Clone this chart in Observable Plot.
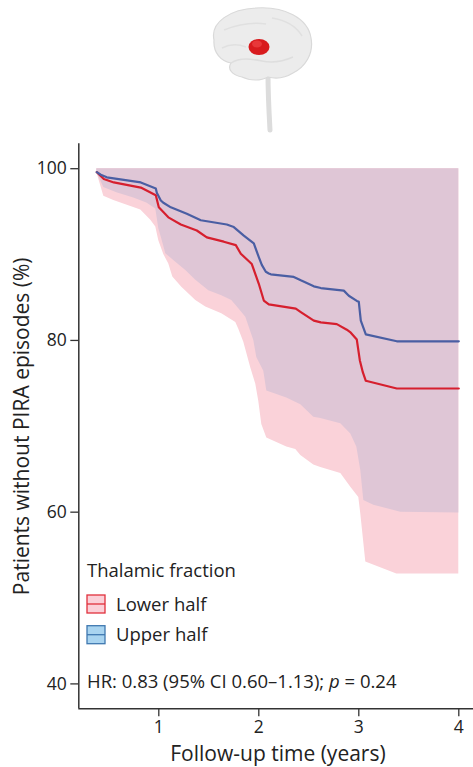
<!DOCTYPE html>
<html><head><meta charset="utf-8">
<script src="https://cdn.jsdelivr.net/npm/d3@7"></script>
<script src="https://cdn.jsdelivr.net/npm/@observablehq/plot@0.6"></script>
<style>
body{margin:0;background:#fff;font-family:"Open Sans",sans-serif;}
#wrap{position:relative;width:473px;}
#brain{display:block;}
</style></head><body>
<div id="wrap">
<svg id="brain" width="473" height="135" viewBox="0 0 473 135">
  <path d="M268 74 C268 95 269 112 270 130" stroke="#dcdcdc" stroke-width="5" fill="none" stroke-linecap="round"/>
  <path d="M214 40 C210 22 231 9 256 8 C284 6 308 18 311 38 C314 54 305 67 293 73 C285 78 276 79 268 77 C261 81 250 81 242 77 C232 75 227 69 231 63 C221 61 213 53 214 40 Z" fill="#ececec" stroke="#d9d9d9" stroke-width="1.2"/>
  <path d="M231 63 C240 57 252 59 262 61 C272 63 284 61 293 57" stroke="#dedede" stroke-width="1.5" fill="none"/>
  <path d="M224 30 C239 24 252 22 266 24 M272 18 C285 20 296 26 302 36 M222 48 C230 44 238 44 246 47" stroke="#e0e0e0" stroke-width="1.5" fill="none"/>
  <ellipse cx="259" cy="47" rx="10.5" ry="8" fill="#d81b1e"/>
  <ellipse cx="257" cy="44" rx="5" ry="3.5" fill="#e8383a"/>
</svg>
<div id="chart"></div>
</div>
<script>
// ---- data ----
const groups = ["Lower half", "Upper half"];
const legendTitle = "Thalamic fraction";
const hrText = ["HR: 0.83 (95% CI 0.60–1.13); ", "p", " = 0.24"];
const xLabel = "Follow-up time (years)";
const yLabel = "Patients without PIRA episodes (%)";
const xTicks = [1, 2, 3, 4];
const yTicks = [40, 60, 80, 100];
const ciUpper = 100;

// Lower half: survival curve
const lowerTime     = [0.38,0.45,0.55,0.82,0.97,1.0,1.05,1.1,1.22,1.38,1.48,1.65,1.77,1.82,1.93,2.0,2.05,2.1,2.37,2.42,2.55,2.62,2.78,2.88,2.92,2.98,3.01,3.04,3.07,3.38,4.0];
const lowerSurvival = [99.6,98.8,98.4,97.8,96.9,95.5,94.9,94.3,93.5,92.8,92.0,91.5,91.1,90.1,88.9,86.6,84.65,84.2,83.7,83.3,82.3,82.1,81.9,81.25,80.9,80.1,77.7,76.3,75.3,74.4,74.4];
// Lower half: lower 95% CI bound
const lowerBandTime = [0.38,0.45,0.55,0.82,0.92,0.97,1.0,1.05,1.1,1.14,1.23,1.37,1.47,1.63,1.77,1.8,1.85,1.92,1.97,2.0,2.03,2.08,2.28,2.37,2.42,2.55,2.62,2.82,2.92,3.0,3.02,3.07,3.38,4.0];
const lowerCILow    = [99.6,96.8,96.3,95.2,94.0,93.2,91.6,90.0,88.9,87.4,86.2,84.65,83.9,83.1,82.1,81.3,79.8,76.8,74.9,72.9,70.2,68.65,67.6,67.3,66.6,65.5,65.2,64.5,62.9,61.7,59.8,54.2,52.8,52.8];

// Upper half: survival curve
const upperTime     = [0.38,0.42,0.48,0.82,0.97,0.98,1.02,1.05,1.12,1.28,1.42,1.68,1.75,1.8,1.85,1.95,2.0,2.03,2.07,2.1,2.12,2.35,2.42,2.55,2.62,2.85,2.9,2.98,3.0,3.02,3.07,3.38,4.0];
const upperSurvival = [99.6,99.3,99.0,98.4,97.7,97.2,96.3,96.0,95.5,94.75,94.0,93.5,93.2,92.7,92.2,91.3,89.7,88.8,88.0,87.8,87.7,87.4,87.0,86.3,86.1,85.8,85.2,84.6,84.5,82.3,80.7,79.9,79.9];
// Upper half: lower 95% CI bound
const upperBandTime = [0.38,0.45,0.58,0.75,0.88,0.97,1.0,1.03,1.07,1.17,1.27,1.37,1.5,1.63,1.73,1.8,1.87,1.95,1.98,2.05,2.08,2.28,2.42,2.55,2.62,2.82,2.92,2.98,3.02,3.05,3.15,3.42,4.0];
const upperCILow    = [99.6,97.8,97.2,96.6,96.0,95.3,93.0,91.8,90.1,89.1,88.15,87.0,85.8,85.2,84.65,83.7,82.7,80.0,78.0,76.4,74.1,73.3,72.5,71.05,70.9,70.3,69.1,67.6,64.85,61.35,60.8,60.0,59.9];

// ---- styles ----
const lineColor = ["#d61f2e", "#4a5ea3"];
const bandColor = ["#fad2d9", "#dfc6d6"];
const swatchFill = ["#fbd0d8", "#a9d4f0"];
const swatchStroke = ["#e0303c", "#3f78b0"];

const lowerRows = lowerTime.map((t, i) => ({t, s: lowerSurvival[i]}));
const upperRows = upperTime.map((t, i) => ({t, s: upperSurvival[i]}));
const lowerBand = lowerBandTime.map((t, i) => ({t, lo: lowerCILow[i], hi: ciUpper}));
const upperBand = upperBandTime.map((t, i) => ({t, lo: upperCILow[i], hi: ciUpper}));

function legendMark(index, scales, values, dims) {
  const g = d3.create("svg:g")
    .attr("font-family", "Open Sans")
    .attr("font-size", 18.5)
    .attr("text-anchor", "start")
    .attr("fill", "#222");
  const left = dims.marginLeft + 8.7;
  const bottom = dims.height - dims.marginBottom;
  g.append("text").attr("x", left).attr("y", bottom - 131.6).text(legendTitle);
  groups.forEach((name, i) => {
    const y0 = bottom - 113.3 + i * 30.7;
    g.append("rect").attr("x", left).attr("y", y0).attr("width", 18).attr("height", 18)
      .attr("fill", swatchFill[i]).attr("stroke", swatchStroke[i]).attr("stroke-width", 1.3);
    g.append("line").attr("x1", left).attr("x2", left + 18).attr("y1", y0 + 9).attr("y2", y0 + 9)
      .attr("stroke", swatchStroke[i]).attr("stroke-width", 1.3);
    g.append("text").attr("x", left + 29).attr("y", y0 + 15.7).text(name);
  });
  const hr = g.append("text").attr("x", left).attr("y", bottom - 20);
  hr.append("tspan").text(hrText[0]);
  hr.append("tspan").attr("font-style", "italic").text(hrText[1]);
  hr.append("tspan").text(hrText[2]);
  return g.node();
}

const chart = Plot.plot({
  width: 473,
  height: 632,
  marginTop: 8.3,
  marginLeft: 78.3,
  marginRight: 0,
  marginBottom: 58.7,
  style: {fontFamily: "Open Sans", fontSize: "17.5px", color: "#222", background: "white", overflow: "visible"},
  x: {domain: [0.2, 4.147]},
  y: {domain: [37.1, 102.9]},
  marks: [
    Plot.areaY(lowerBand, {x: "t", y1: "lo", y2: "hi", fill: bandColor[0]}),
    Plot.areaY(upperBand, {x: "t", y1: "lo", y2: "hi", fill: bandColor[1]}),
    Plot.line(lowerRows, {x: "t", y: "s", stroke: lineColor[0], strokeWidth: 2.2}),
    Plot.line(upperRows, {x: "t", y: "s", stroke: lineColor[1], strokeWidth: 2.2}),
    Plot.axisX({ticks: xTicks, tickFormat: d => String(d), tickSize: 8, tickPadding: 4, fontSize: 17.5, label: null, stroke: "#333", strokeWidth: 1.3}),
    Plot.axisY({ticks: yTicks, tickFormat: d => String(d), tickSize: 8, tickPadding: 4, fontSize: 17.5, label: null, stroke: "#333", strokeWidth: 1.3}),
    Plot.ruleX([0.2], {stroke: "#333", strokeWidth: 1.5}),
    Plot.ruleY([37.1], {stroke: "#333", strokeWidth: 1.5}),
    Plot.text([xLabel], {text: d => d, frameAnchor: "bottom", textAnchor: "middle", lineAnchor: "middle", dx: 1.8, dy: 45, fontSize: 21, fill: "#222"}),
    Plot.text([yLabel], {text: d => d, frameAnchor: "left", textAnchor: "middle", lineAnchor: "middle", rotate: -90, dx: -57, fontSize: 21, fill: "#222"}),
    legendMark
  ]
});
document.getElementById("chart").appendChild(chart);
</script>
</body></html>
